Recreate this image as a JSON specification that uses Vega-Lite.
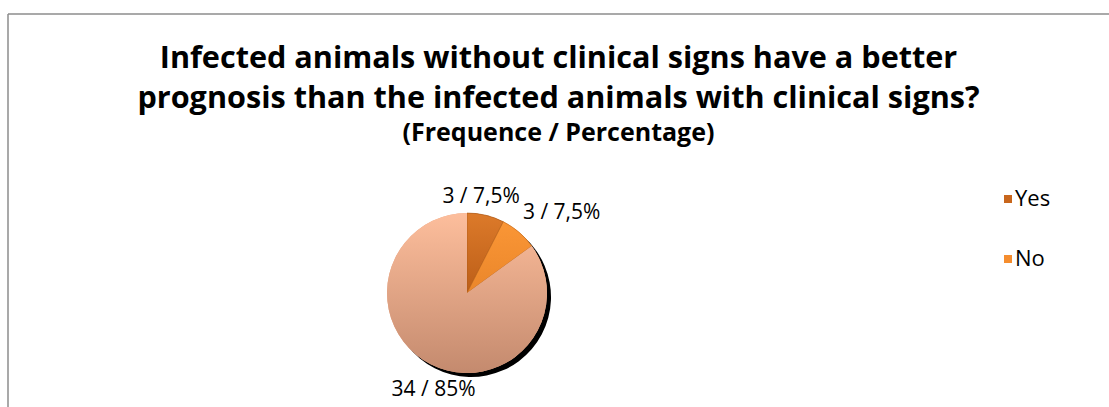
{
  "$schema": "https://vega.github.io/schema/vega-lite/v6.json",
  "width": 1101,
  "height": 393,
  "autosize": {"type": "none"},
  "padding": {"left": 8, "top": 14, "right": 0, "bottom": 0},
  "background": "white",
  "config": {"view": {"stroke": null}},
  "title": {
    "text": ["Infected animals without clinical signs have a better", "prognosis than the infected animals with clinical signs?"],
    "subtitle": "(Frequence / Percentage)",
    "font": "Open Sans",
    "fontSize": 30.6,
    "fontWeight": "bold",
    "color": "black",
    "lineHeight": 40,
    "subtitleFont": "Open Sans",
    "subtitleFontSize": 25,
    "subtitleFontWeight": "bold",
    "subtitleColor": "black",
    "subtitlePadding": 7,
    "anchor": "middle",
    "frame": "group",
    "baseline": "top",
    "dy": 137
  },
  "data": {
    "values": [
      {"answer": "Yes", "count": 3, "label": "3 / 7,5%"},
      {"answer": "No", "count": 3, "label": "3 / 7,5%"},
      {"answer": "Other", "count": 34, "label": "34 / 85%"}
    ]
  },
  "transform": [{"window": [{"op": "row_number", "as": "idx"}]}],
  "layer": [
    {
      "data": {"values": [{}]},
      "mark": {"type": "rule", "color": "#8c8c8c", "strokeWidth": 1.5},
      "encoding": {"x": {"datum": 0, "type": "quantitative", "scale": {"domain": [0, 1]}, "axis": null}}
    },
    {
      "data": {"values": [{}]},
      "mark": {"type": "rule", "color": "#8c8c8c", "strokeWidth": 1.5},
      "encoding": {"y": {"datum": 1, "type": "quantitative", "scale": {"domain": [0, 1]}, "axis": null}}
    },
    {
      "mark": {"type": "arc", "outerRadius": 80, "color": "black", "xOffset": 4, "yOffset": 4},
      "encoding": {
        "x": {"datum": 0.4169, "type": "quantitative"},
        "y": {"datum": 0.29, "type": "quantitative"},
        "theta": {"field": "count", "type": "quantitative", "stack": true},
        "order": {"field": "idx"}
      }
    },
    {
      "mark": {"type": "arc", "outerRadius": 80},
      "encoding": {
        "x": {"datum": 0.4169, "type": "quantitative"},
        "y": {"datum": 0.29, "type": "quantitative"},
        "theta": {"field": "count", "type": "quantitative", "stack": true},
        "order": {"field": "idx"},
        "color": {
          "field": "answer",
          "type": "nominal",
          "scale": {"domain": ["Yes", "No", "Other"], "range": ["#c8661c", "#f58d2e", "#e8a888"]},
          "legend": {
            "orient": "none",
            "legendX": 989,
            "legendY": 174,
            "title": null,
            "values": ["Yes", "No"],
            "symbolType": "square",
            "symbolSize": 64,
            "symbolStrokeWidth": 0,
            "labelFont": "Open Sans",
            "labelFontSize": 22,
            "labelColor": "black",
            "labelOffset": -4,
            "rowPadding": 38
          }
        }
      }
    },
    {
      "mark": {"type": "arc", "outerRadius": 80, "stroke": "#a85818", "strokeWidth": 0.6,
        "fill": {"gradient": "linear", "x1": 0, "y1": 0, "x2": 0, "y2": 1, "stops": [{"offset": 0, "color": "#dc7a2a"}, {"offset": 1, "color": "#bc5e18"}]}},
      "encoding": {
        "x": {"datum": 0.4169, "type": "quantitative"},
        "y": {"datum": 0.29, "type": "quantitative"},
        "theta": {"field": "count", "type": "quantitative", "stack": true},
        "order": {"field": "idx"},
        "opacity": {"condition": {"test": "datum.answer === 'Yes'", "value": 1}, "value": 0}
      }
    },
    {
      "mark": {"type": "arc", "outerRadius": 80, "stroke": "#c06a20", "strokeWidth": 0.6,
        "fill": {"gradient": "linear", "x1": 0, "y1": 0, "x2": 0, "y2": 1, "stops": [{"offset": 0, "color": "#fa9636"}, {"offset": 1, "color": "#ea862a"}]}},
      "encoding": {
        "x": {"datum": 0.4169, "type": "quantitative"},
        "y": {"datum": 0.29, "type": "quantitative"},
        "theta": {"field": "count", "type": "quantitative", "stack": true},
        "order": {"field": "idx"},
        "opacity": {"condition": {"test": "datum.answer === 'No'", "value": 1}, "value": 0}
      }
    },
    {
      "mark": {"type": "arc", "outerRadius": 80,
        "fill": {"gradient": "linear", "x1": 0, "y1": 0, "x2": 0, "y2": 1, "stops": [{"offset": 0, "color": "#fdbe9c"}, {"offset": 1, "color": "#c48a6e"}]}},
      "encoding": {
        "x": {"datum": 0.4169, "type": "quantitative"},
        "y": {"datum": 0.29, "type": "quantitative"},
        "theta": {"field": "count", "type": "quantitative", "stack": true},
        "order": {"field": "idx"},
        "opacity": {"condition": {"test": "datum.answer === 'Other'", "value": 1}, "value": 0}
      }
    },
    {
      "mark": {"type": "text", "radius": 99, "font": "Open Sans", "fontSize": 21, "color": "black", "baseline": "middle", "align": "center", "dx": -9},
      "encoding": {
        "x": {"datum": 0.4169, "type": "quantitative"},
        "y": {"datum": 0.29, "type": "quantitative"},
        "theta": {"field": "count", "type": "quantitative", "stack": true},
        "order": {"field": "idx"},
        "text": {"condition": {"test": "datum.answer !== 'Yes'", "value": ""}, "field": "label"}
      }
    },
    {
      "mark": {"type": "text", "radius": 100, "font": "Open Sans", "fontSize": 21, "color": "black", "baseline": "middle", "align": "left", "dx": -9, "dy": -4},
      "encoding": {
        "x": {"datum": 0.4169, "type": "quantitative"},
        "y": {"datum": 0.29, "type": "quantitative"},
        "theta": {"field": "count", "type": "quantitative", "stack": true},
        "order": {"field": "idx"},
        "text": {"condition": {"test": "datum.answer !== 'No'", "value": ""}, "field": "label"}
      }
    },
    {
      "mark": {"type": "text", "radius": 100, "font": "Open Sans", "fontSize": 21, "color": "black", "baseline": "middle", "align": "center", "dx": 12, "dy": 8},
      "encoding": {
        "x": {"datum": 0.4169, "type": "quantitative"},
        "y": {"datum": 0.29, "type": "quantitative"},
        "theta": {"field": "count", "type": "quantitative", "stack": true},
        "order": {"field": "idx"},
        "text": {"condition": {"test": "datum.answer !== 'Other'", "value": ""}, "field": "label"}
      }
    }
  ]
}
